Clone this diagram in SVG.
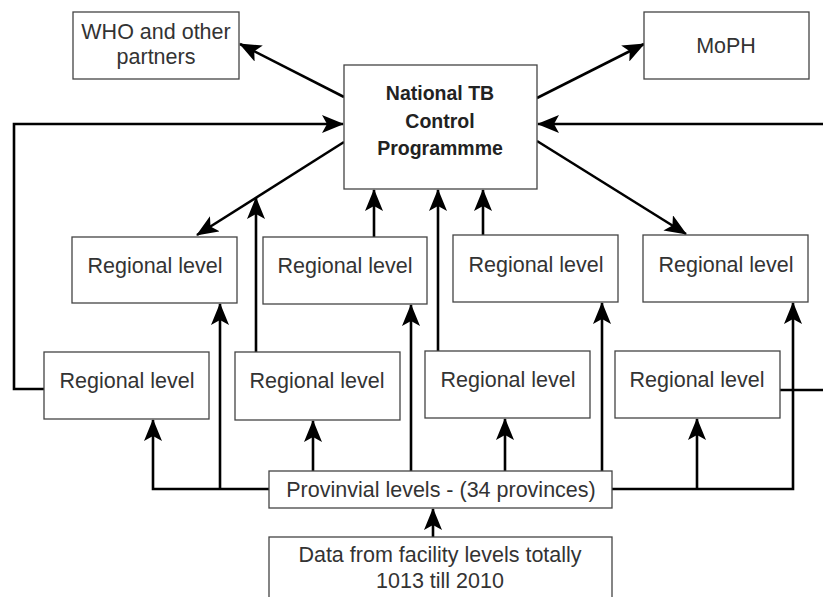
<svg xmlns="http://www.w3.org/2000/svg" width="823" height="597" viewBox="0 0 823 597">
<style>
.box{fill:#fff;stroke:#444;stroke-width:1.3}
.t{font-family:"Liberation Sans",Arial,sans-serif;font-size:21.5px;fill:#333;text-anchor:middle}
.b{font-family:"Liberation Sans",Arial,sans-serif;font-size:19.5px;font-weight:bold;fill:#222;text-anchor:middle}
.c{fill:none;stroke:#000;stroke-width:2.6}
.a{marker-end:url(#ah)}
</style>
<defs>
<marker id="ah" viewBox="0 0 22 18" refX="21" refY="9" markerWidth="22" markerHeight="18" markerUnits="userSpaceOnUse" orient="auto">
<path d="M0,0 L22,9 L0,18 L5,9 z" fill="#000"/>
</marker>
</defs>
<g id="connectors">
<path class="c a" d="M344,97 L240,44"/>
<path class="c a" d="M537,98 L644,44"/>
<path class="c a" d="M44,389 L14,389 L14,124 L343,124"/>
<path class="c a" d="M823,124 L538,124"/>
<path class="c" d="M780,390 L823,390"/>
<path class="c a" d="M344,142 L197,235"/>
<path class="c a" d="M537,141 L686,234"/>
<path class="c a" d="M256,352 L256,198"/>
<path class="c a" d="M374,237 L374,190"/>
<path class="c a" d="M438,351 L438,190"/>
<path class="c a" d="M483,235 L483,190"/>
<path class="c a" d="M269,489 L153,489 L153,420"/>
<path class="c a" d="M220,489 L220,304"/>
<path class="c a" d="M612,489 L793,489 L793,303"/>
<path class="c a" d="M697,489 L697,419"/>
<path class="c a" d="M313,471 L313,421"/>
<path class="c a" d="M411,471 L411,305"/>
<path class="c a" d="M505,471 L505,419"/>
<path class="c a" d="M602,471 L602,303"/>
<path class="c a" d="M433,537 L433,509"/>
</g>
<g id="who"><rect class="box" x="73" y="12" width="166" height="67"/><text class="t" x="156" y="39">WHO and other</text><text class="t" x="156" y="64">partners</text></g>
<g id="moph"><rect class="box" x="644" y="12" width="165" height="67"/><text class="t" x="726" y="53">MoPH</text></g>
<g id="ntcp"><rect class="box" x="344" y="65" width="193" height="124"/><text class="b" x="440" y="100">National TB</text><text class="b" x="440" y="128">Control</text><text class="b" x="440" y="155">Programmme</text></g>
<g id="reg-u1"><rect class="box" x="72" y="237" width="165" height="66"/><text class="t" x="155" y="273">Regional level</text></g>
<g id="reg-u2"><rect class="box" x="263" y="237" width="164" height="67"/><text class="t" x="345" y="273">Regional level</text></g>
<g id="reg-u3"><rect class="box" x="453" y="235" width="165" height="67"/><text class="t" x="536" y="272">Regional level</text></g>
<g id="reg-u4"><rect class="box" x="643" y="235" width="165" height="67"/><text class="t" x="726" y="272">Regional level</text></g>
<g id="reg-l1"><rect class="box" x="44" y="352" width="165" height="67"/><text class="t" x="127" y="388">Regional level</text></g>
<g id="reg-l2"><rect class="box" x="235" y="352" width="165" height="68"/><text class="t" x="317" y="388">Regional level</text></g>
<g id="reg-l3"><rect class="box" x="425" y="351" width="165" height="67"/><text class="t" x="508" y="387">Regional level</text></g>
<g id="reg-l4"><rect class="box" x="615" y="351" width="165" height="67"/><text class="t" x="697" y="387">Regional level</text></g>
<g id="provincial"><rect class="box" x="269" y="471" width="343" height="37"/><text class="t" x="441" y="497">Provinvial levels - (34 provinces)</text></g>
<g id="facility"><rect class="box" x="269" y="537" width="343" height="70"/><text class="t" x="440" y="562">Data from facility levels totally</text><text class="t" x="440" y="588">1013 till 2010</text></g>
</svg>
